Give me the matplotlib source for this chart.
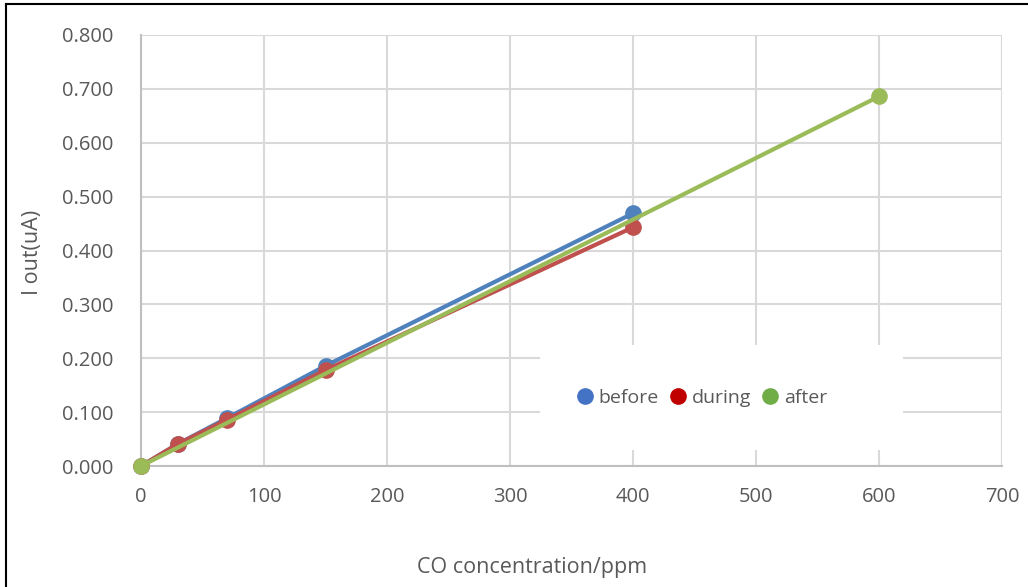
import matplotlib
matplotlib.use("Agg")
import matplotlib.pyplot as plt
from matplotlib.lines import Line2D
from matplotlib.patches import Rectangle

plt.rcParams['font.family'] = ['Open Sans', 'DejaVu Sans']

before_x = [0, 30, 70, 150, 400]
before_y = [0.000, 0.041, 0.089, 0.186, 0.469]
during_x = [0, 30, 70, 150, 400]
during_y = [0.000, 0.041, 0.086, 0.178, 0.443]
after_x = [0, 600]
after_y = [0.000, 0.686]

xticks = [0, 100, 200, 300, 400, 500, 600, 700]
yticks = [0.0, 0.1, 0.2, 0.3, 0.4, 0.5, 0.6, 0.7, 0.8]

W, H = 1028, 587
fig = plt.figure(figsize=(W/100, H/100), dpi=100)
ax = fig.add_axes([141/W, 1-466/H, (1002-141)/W, (466-35)/H])

txt = '#595959'
grid = '#d9d9d9'
c_before = '#4f81bd'
c_during = '#c0504d'
c_after = '#9bbb59'

ax.plot(before_x, before_y, color=c_before, lw=3, marker='o', ms=11, zorder=3, clip_on=False)
ax.plot(during_x, during_y, color=c_during, lw=3, marker='o', ms=11, zorder=4, clip_on=False)
ax.plot(after_x, after_y, color=c_after, lw=3, marker='o', ms=11, zorder=5, clip_on=False)

ax.set_xlim(0, 700)
ax.set_ylim(0, 0.8)
ax.set_xticks(xticks)
ax.set_yticks(yticks)
ax.set_yticklabels([f"{v:.3f}" for v in yticks])
ax.grid(True, color=grid, lw=1.5, zorder=0)
ax.set_axisbelow(True)
for s in ['top', 'right']:
    ax.spines[s].set_visible(False)
for s in ['left', 'bottom']:
    ax.spines[s].set_color('#bfbfbf')
    ax.spines[s].set_linewidth(1.5)
ax.tick_params(length=0, labelsize=14.5, colors=txt)
ax.tick_params(axis='y', pad=20)
ax.tick_params(axis='x', pad=15)
ax.set_xlabel('CO concentration/ppm', fontsize=15.5, color=txt, va='center')
ax.xaxis.set_label_coords((532-141)/861, (466-567)/431)
ax.set_ylabel('I out(uA)', fontsize=15.5, color=txt, va='center')
ax.yaxis.set_label_coords((33-141)/861, (466-252)/431)

ax.add_patch(Rectangle(((540-141)/861, (466-450)/431), (903-540)/861, (450-345)/431,
                       transform=ax.transAxes, facecolor='white', edgecolor='none', zorder=2))

handles = [Line2D([], [], ls='none', marker='o', ms=11, color='#4472c4'),
           Line2D([], [], ls='none', marker='o', ms=11, color='#c00000'),
           Line2D([], [], ls='none', marker='o', ms=11, color='#70ad47')]
leg = ax.legend(handles, ['before', 'during', 'after'], ncol=3, loc='center',
                bbox_to_anchor=((701-141)/861, (466-398)/431),
                frameon=False, fontsize=14, handletextpad=0.2, columnspacing=0.5,
                borderpad=0, borderaxespad=0, handlelength=1.0)
leg.set_zorder(10)
for t in leg.get_texts():
    t.set_color(txt)

fig.add_artist(Line2D([6/W, 6/W], [0, 1-4/H], color='black', lw=1.5))
fig.add_artist(Line2D([6/W, 1], [1-4/H, 1-4/H], color='black', lw=1.5))

fig.savefig('out.png', dpi=100, facecolor='white')
